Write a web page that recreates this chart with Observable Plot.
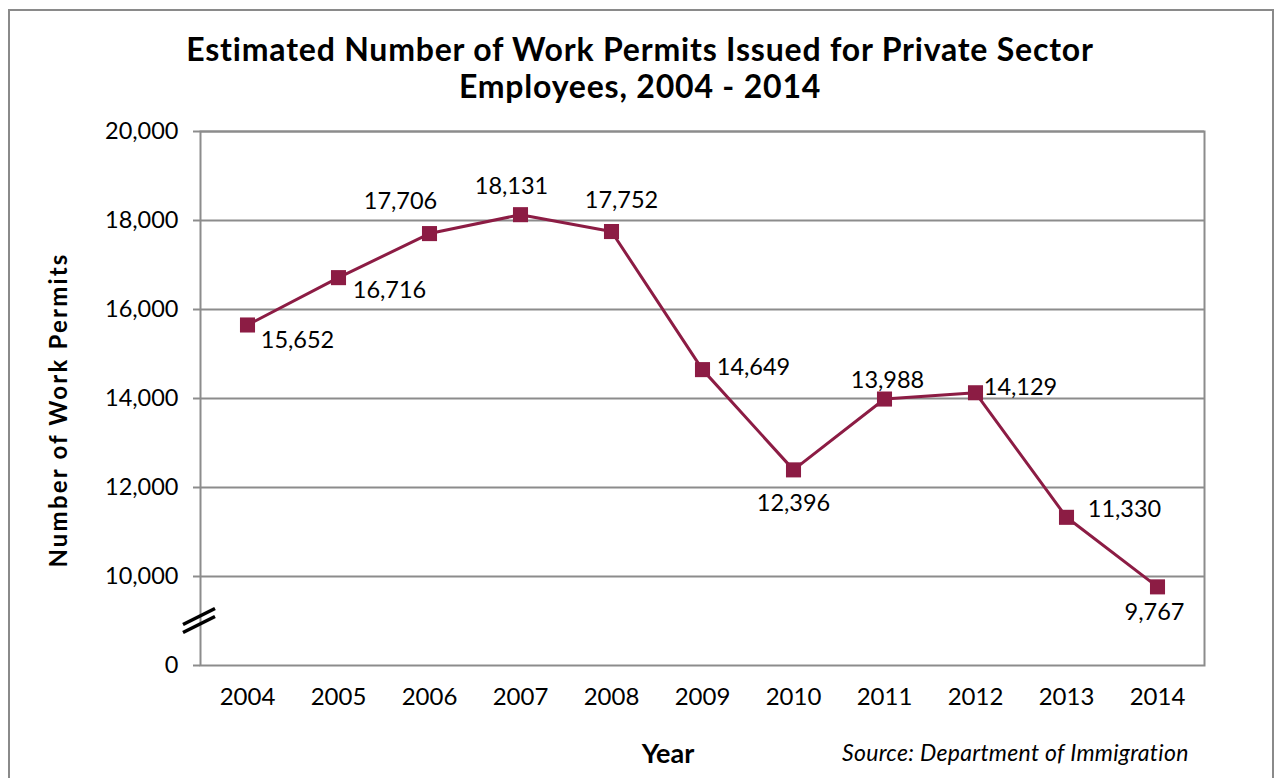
<!DOCTYPE html>
<html><head><meta charset="utf-8">
<script src="https://cdn.jsdelivr.net/npm/d3@7"></script>
<script src="https://cdn.jsdelivr.net/npm/@observablehq/plot@0.6"></script>
<style>
body{margin:0;background:#fff;font-family:Lato,"Open Sans",sans-serif;}
#wrap{position:relative;width:1276px;height:778px;overflow:hidden;background:#fff}
#border{position:absolute;left:8px;top:9px;width:1266px;height:820px;border:2px solid #8a8a8a;box-sizing:border-box}
.t{position:absolute;white-space:nowrap;color:#000}
#title{left:640px;top:67px;transform:translate(-50%,-50%);font-weight:700;font-size:32px;letter-spacing:0.8px;text-align:center;line-height:37px}
#ylab{left:57px;top:410px;transform:translate(-50%,-50%) rotate(-90deg);font-weight:700;font-size:24px;letter-spacing:2.2px}
#xlab{left:668px;top:752px;transform:translate(-50%,-50%);font-weight:700;font-size:27px}
#src{left:842px;top:752px;transform:translate(0,-50%);font-style:italic;font-size:23px;letter-spacing:0.3px}
#chart{position:absolute;left:0;top:0}
</style></head>
<body><div id="wrap">
<div id="border"></div>
<div id="chart"></div>
<div class="t" id="title">Estimated Number of Work Permits Issued for Private Sector<br>Employees, 2004 - 2014</div>
<div class="t" id="ylab">Number of Work Permits</div>
<div class="t" id="xlab">Year</div>
<div class="t" id="src">Source: Department of Immigration</div>
</div>
<script>
const years = ["2004","2005","2006","2007","2008","2009","2010","2011","2012","2013","2014"];
const permits = [15652,16716,17706,18131,17752,14649,12396,13988,14129,11330,9767];
const valueLabels = ["15,652","16,716","17,706","18,131","17,752","14,649","12,396","13,988","14,129","11,330","9,767"];
const yTickValues = [8000,10000,12000,14000,16000,18000,20000];
const yTickLabels = ["0","10,000","12,000","14,000","16,000","18,000","20,000"];
const gridValues = [10000,12000,14000,16000,18000,20000];
// label placement offsets (px) relative to each marker
const labelDx = [50,51,-29,-9,10,51,0,3,45,58,-3];
const labelDy = [15,13,-32,-28,-31,-2,34,-19,-5,-8,26];

const data = years.map((y,i)=>({year:y, value:permits[i], label:valueLabels[i]}));
const color = "#8c1c44";
const gray = "#8c8c8c";

const labelMarks = data.map((d,i)=>Plot.text([d],{x:"year",y:"value",text:"label",dx:labelDx[i],dy:labelDy[i],fontSize:23.5,fill:"#000"}));

const plot = Plot.plot({
  width:1276, height:778,
  marginLeft:200, marginRight:72, marginTop:131, marginBottom:113,
  style:{fontFamily:"Lato, 'Open Sans', sans-serif", background:"transparent", color:"#000"},
  x:{type:"point", domain:years, padding:0.5},
  y:{domain:[8000,20000]},
  marks:[
    Plot.ruleY(gridValues,{stroke:gray,strokeWidth:2}),
    Plot.frame({stroke:gray,strokeWidth:2}),
    Plot.axisY({ticks:yTickValues, tickFormat:(d)=>yTickLabels[yTickValues.indexOf(d)], tickSize:7, tickPadding:15, fontSize:23.5, stroke:gray, strokeWidth:2, label:null}),
    Plot.axisX({tickSize:0, tickPadding:22, fontSize:24, label:null}),
    Plot.line(data,{x:"year",y:"value",stroke:color,strokeWidth:3}),
    Plot.dot(data,{x:"year",y:"value",symbol:"square",r:8.5,fill:color,stroke:"none"}),
    ...labelMarks
  ]
});
document.getElementById("chart").appendChild(plot);

// axis break marks
const ys = plot.scale("y").apply(9000);
const svg = d3.select(plot);
[-4,4].forEach(off=>{
  svg.append("line").attr("x1",183).attr("y1",ys+off+8).attr("x2",215).attr("y2",ys+off-8)
    .attr("stroke","#000").attr("stroke-width",3.5);
});
</script>
</body></html>
